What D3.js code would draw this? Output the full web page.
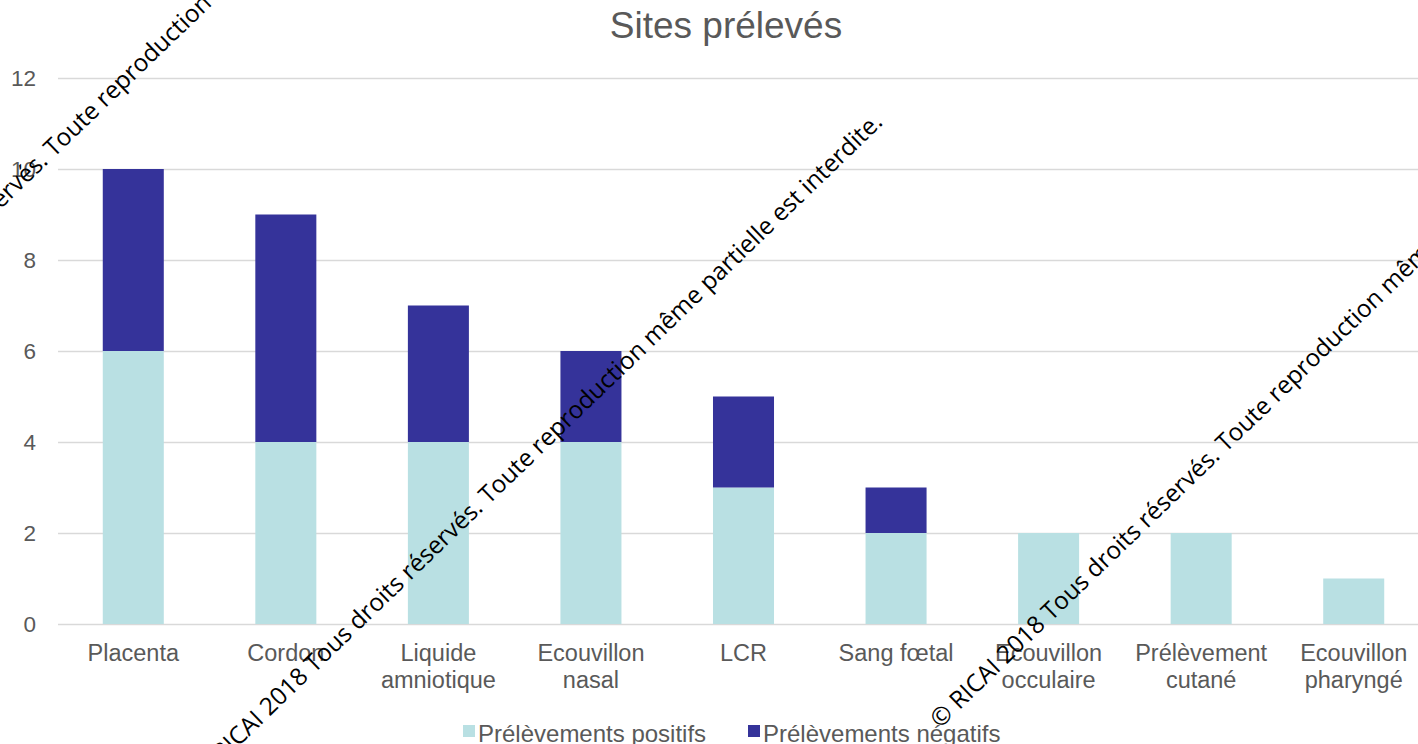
<!DOCTYPE html>
<html>
<head>
<meta charset="utf-8">
<script src="https://cdn.jsdelivr.net/npm/d3@7"></script>
<style>
  html, body { margin: 0; padding: 0; background: #fff; overflow: hidden; }
  svg { display: block; }
  .tick text { fill: #595959; font-family: "Liberation Sans", Arial, sans-serif; }
</style>
</head>
<body>
<div id="chart"></div>
<script>
// categories (line breaks as in the original labels)
const categories = [
    'Placenta', 'Cordon', 'Liquide\namniotique', 'Ecouvillon\nnasal', 'LCR',
    'Sang fœtal', 'Ecouvillon\nocculaire', 'Prélèvement\ncutané', 'Ecouvillon\npharyngé'
];
const positifs = [6, 4, 4, 4, 3, 2, 2, 2, 1];
const negatifs = [4, 5, 3, 2, 2, 1, 0, 0, 0];
const seriesNames = ['Prélèvements positifs', 'Prélèvements négatifs'];
const yTicks = [0, 2, 4, 6, 8, 10, 12];
const watermark = '© RICAI 2018 Tous droits réservés. Toute reproduction même partielle est interdite.';

const width = 1418, height = 744;
const colors = ['#b9e0e3', '#35339a'];

const svg = d3.select('#chart').append('svg')
    .attr('width', width)
    .attr('height', height);

const x = d3.scaleBand()
    .domain(categories)
    .range([57, 1430])
    .paddingInner(0.6)
    .paddingOuter(0.3);

const y = d3.scaleLinear()
    .domain([0, 12])
    .range([624, 78]);

// title
svg.append('text')
    .attr('x', 726)
    .attr('y', 38)
    .attr('text-anchor', 'middle')
    .attr('fill', '#595959')
    .style('font-family', '"Liberation Sans", Arial, sans-serif')
    .style('font-size', '37px')
    .text('Sites prélevés');

// y axis with gridlines
const yAxis = svg.append('g')
    .attr('transform', 'translate(58,0)')
    .call(d3.axisLeft(y).tickValues(yTicks).tickSize(-1400).tickPadding(22));
yAxis.select('.domain').remove();
yAxis.selectAll('.tick line').attr('stroke', '#d9d9d9').attr('stroke-width', 1.5);
yAxis.selectAll('.tick text').style('font-size', '22.5px');

// stacked bars
const rows = categories.map((c, i) => ({ cat: c, positifs: positifs[i], negatifs: negatifs[i] }));
const stack = d3.stack().keys(['positifs', 'negatifs'])(rows);

svg.append('g').selectAll('g')
    .data(stack)
    .join('g')
    .attr('fill', (d, i) => colors[i])
    .selectAll('rect')
    .data(d => d.filter(p => p[1] > p[0]))
    .join('rect')
    .attr('x', d => x(d.data.cat))
    .attr('width', x.bandwidth())
    .attr('y', d => y(d[1]))
    .attr('height', d => y(d[0]) - y(d[1]));

// x axis labels
const xAxis = svg.append('g')
    .attr('transform', 'translate(0,624)')
    .call(d3.axisBottom(x).tickSize(0).tickPadding(20));
xAxis.select('.domain').remove();
xAxis.selectAll('.tick text')
    .style('font-size', '23.5px')
    .text(null)
    .each(function(d) {
        const t = d3.select(this);
        d.split('\n').forEach((line, k) => {
            t.append('tspan')
                .attr('x', 0)
                .attr('dy', k === 0 ? '0.71em' : '1.15em')
                .text(line);
        });
    });

// legend
const legend = svg.append('g').attr('transform', 'translate(463,742)');
const legendX = [0, 285];
seriesNames.forEach((name, i) => {
    const g = legend.append('g').attr('transform', `translate(${legendX[i]},0)`);
    g.append('rect')
        .attr('x', 0).attr('y', -17)
        .attr('width', 12).attr('height', 12)
        .attr('fill', colors[i]);
    g.append('text')
        .attr('x', 15).attr('y', 0)
        .attr('fill', '#595959')
        .style('font-family', '"Liberation Sans", Arial, sans-serif')
        .style('font-size', '24px')
        .text(name);
});

// diagonal watermark lines
const marks = [
    { x: -232, y: 434 },
    { x: 203, y: 781 },
    { x: 940, y: 729 }
];
svg.append('g').selectAll('text')
    .data(marks)
    .join('text')
    .attr('transform', d => `translate(${d.x},${d.y}) rotate(-44)`)
    .attr('fill', '#000')
    .style('font-family', '"Open Sans", sans-serif')
    .style('font-size', '24.4px')
    .text(watermark);
</script>
</body>
</html>
